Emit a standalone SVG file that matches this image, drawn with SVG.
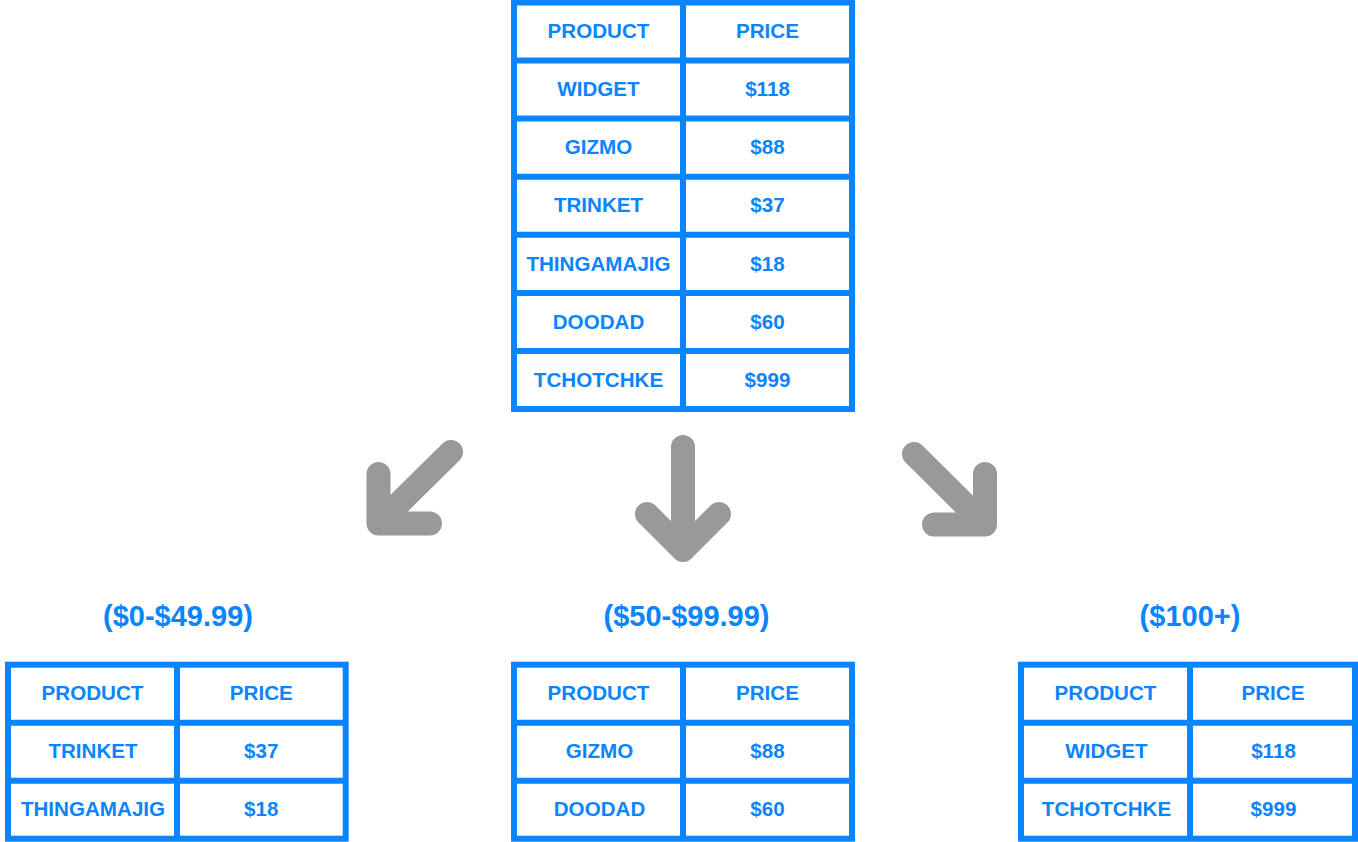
<svg xmlns="http://www.w3.org/2000/svg" width="1358" height="842" viewBox="0 0 1358 842">
<style>
.grid{fill:none;stroke:#0a84ff;stroke-width:6}
.cell{font-family:"Liberation Sans",Arial,sans-serif;font-weight:bold;font-size:20.6px;fill:#0a84ff;text-anchor:middle}
.lbl{font-family:"Liberation Sans",Arial,sans-serif;font-weight:bold;font-size:29px;fill:#0a84ff;text-anchor:middle}
.arr{fill:none;stroke:#999999;stroke-width:24;stroke-linecap:round;stroke-linejoin:round}
</style>
<rect width="1358" height="842" fill="#ffffff"/>
<g id="source-table">
<rect class="grid" x="514" y="2.5" width="338" height="406.5"/>
<path class="grid" d="M683 2.5V409M514 60.6H852M514 118.6H852M514 176.7H852M514 234.8H852M514 292.9H852M514 350.9H852"/>
<text class="cell" x="598.5" y="38.2">PRODUCT</text><text class="cell" x="767.5" y="38.2">PRICE</text>
<text class="cell" x="598.5" y="96.3">WIDGET</text><text class="cell" x="767.5" y="96.3">$118</text>
<text class="cell" x="598.5" y="154.4">GIZMO</text><text class="cell" x="767.5" y="154.4">$88</text>
<text class="cell" x="598.5" y="212.4">TRINKET</text><text class="cell" x="767.5" y="212.4">$37</text>
<text class="cell" x="598.5" y="270.5">THINGAMAJIG</text><text class="cell" x="767.5" y="270.5">$18</text>
<text class="cell" x="598.5" y="328.6">DOODAD</text><text class="cell" x="767.5" y="328.6">$60</text>
<text class="cell" x="598.5" y="386.7">TCHOTCHKE</text><text class="cell" x="767.5" y="386.7">$999</text>
</g>
<g id="connectors">
<path class="arr" d="M451 452L378.5 523.5M378.5 474V523.5H430"/>
<path class="arr" d="M683 447V550M647 514L683 550L719 514"/>
<path class="arr" d="M914 454L985 524.5M985 474V524.5H934"/>
</g>
<g id="low-table">
<text class="lbl" x="178" y="626">($0-$49.99)</text>
<rect class="grid" x="8" y="664.7" width="337.7" height="174"/>
<path class="grid" d="M177 664.7V838.7M8 722.7H345.7M8 780.7H345.7"/>
<text class="cell" x="92.5" y="700.4">PRODUCT</text><text class="cell" x="261.3" y="700.4">PRICE</text>
<text class="cell" x="93" y="758.4">TRINKET</text><text class="cell" x="261.3" y="758.4">$37</text>
<text class="cell" x="93" y="816.4">THINGAMAJIG</text><text class="cell" x="261.3" y="816.4">$18</text>
</g>
<g id="mid-table">
<text class="lbl" x="686.5" y="626">($50-$99.99)</text>
<rect class="grid" x="514" y="664.7" width="338" height="174"/>
<path class="grid" d="M683 664.7V838.7M514 722.7H852M514 780.7H852"/>
<text class="cell" x="598.5" y="700.4">PRODUCT</text><text class="cell" x="767.5" y="700.4">PRICE</text>
<text class="cell" x="599.5" y="758.4">GIZMO</text><text class="cell" x="767.5" y="758.4">$88</text>
<text class="cell" x="599.5" y="816.4">DOODAD</text><text class="cell" x="767.5" y="816.4">$60</text>
</g>
<g id="high-table">
<text class="lbl" x="1190" y="626">($100+)</text>
<rect class="grid" x="1021" y="664.7" width="334" height="174"/>
<path class="grid" d="M1190 664.7V838.7M1021 722.7H1355M1021 780.7H1355"/>
<text class="cell" x="1105.5" y="700.4">PRODUCT</text><text class="cell" x="1273" y="700.4">PRICE</text>
<text class="cell" x="1106.5" y="758.4">WIDGET</text><text class="cell" x="1273.5" y="758.4">$118</text>
<text class="cell" x="1106.5" y="816.4">TCHOTCHKE</text><text class="cell" x="1273.5" y="816.4">$999</text>
</g>
</svg>
